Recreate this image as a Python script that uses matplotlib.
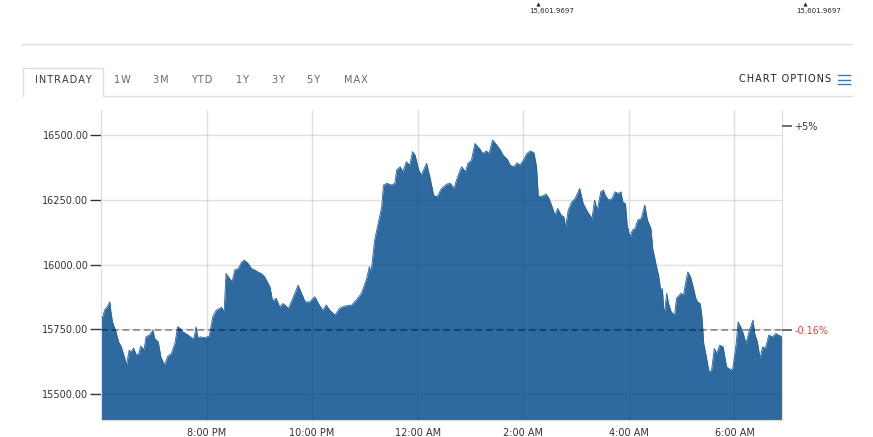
import numpy as np
import pandas as pd
import matplotlib
matplotlib.use("Agg")
import matplotlib.pyplot as plt
import matplotlib.dates as mdates
from matplotlib.ticker import FuncFormatter

# minutes after 6:00 PM and index level
minutes = [0, 2, 4, 7, 10, 11, 13, 17, 20, 23, 27, 29, 32, 34, 37, 40, 43, 45, 49, 51,
           55, 59, 61, 65, 68, 72, 76, 80, 84, 87, 90, 93, 99, 104, 106, 108, 110, 113, 118, 123,
           127, 131, 137, 140, 142, 146, 149, 152, 156, 160, 163, 167, 171, 175, 178, 182, 186, 190, 192, 195,
           199, 203, 207, 213, 218, 224, 228, 232, 237, 243, 247, 252, 256, 260, 266, 271, 277, 285, 290, 296,
           302, 305, 307, 311, 315, 319, 321, 325, 330, 334, 336, 340, 343, 347, 351, 354, 357, 361, 364, 370,
           374, 378, 382, 387, 393, 397, 401, 406, 410, 414, 417, 421, 425, 430, 434, 438, 441, 445, 449, 454,
           457, 462, 465, 469, 473, 476, 480, 484, 488, 492, 495, 497, 501, 506, 509, 512, 516, 519, 523, 526,
           528, 531, 535, 539, 544, 548, 553, 558, 561, 564, 568, 571, 573, 577, 581, 584, 588, 591, 593, 596,
           598, 601, 604, 607, 610, 614, 618, 621, 625, 627, 631, 634, 636, 638, 640, 643, 645, 648, 652, 654,
           659, 662, 665, 667, 670, 673, 676, 678, 681, 683, 685, 688, 691, 694, 697, 700, 703, 707, 711, 716,
           718, 722, 724, 727, 730, 733, 737, 741, 743, 746, 749, 752, 755, 759, 763, 767, 770, 774]
values = [15805, 15798, 15824, 15837, 15856, 15824, 15779, 15741, 15702, 15683, 15639, 15612, 15670, 15663, 15678, 15651, 15657, 15685, 15672, 15721,
          15728, 15747, 15715, 15702, 15644, 15612, 15647, 15657, 15696, 15760, 15754, 15741, 15728, 15715, 15721, 15760, 15718, 15721, 15718, 15724,
          15798, 15824, 15835, 15818, 15966, 15947, 15934, 15979, 15985, 16011, 16017, 16005, 15985, 15979, 15972, 15966, 15953, 15927, 15914, 15860,
          15870, 15837, 15850, 15831, 15870, 15921, 15889, 15856, 15856, 15876, 15850, 15824, 15844, 15824, 15805, 15831, 15840, 15844, 15863, 15889,
          15947, 15992, 15972, 16095, 16159, 16223, 16307, 16314, 16307, 16314, 16365, 16378, 16358, 16397, 16384, 16436, 16423, 16365, 16346, 16391,
          16335, 16268, 16262, 16294, 16311, 16314, 16294, 16346, 16378, 16358, 16391, 16403, 16468, 16449, 16429, 16439, 16429, 16481, 16465, 16442,
          16423, 16406, 16384, 16378, 16393, 16384, 16403, 16429, 16439, 16432, 16378, 16264, 16264, 16272, 16256, 16230, 16191, 16217, 16191, 16185,
          16146, 16210, 16242, 16256, 16294, 16236, 16204, 16178, 16249, 16210, 16281, 16288, 16268, 16249, 16256, 16281, 16275, 16281, 16242, 16236,
          16153, 16107, 16133, 16140, 16172, 16178, 16230, 16172, 16140, 16063, 15998, 15953, 15902, 15908, 15805, 15889, 15850, 15818, 15805, 15870,
          15889, 15882, 15940, 15972, 15953, 15914, 15870, 15856, 15850, 15798, 15696, 15644, 15586, 15593, 15676, 15657, 15689, 15683, 15605, 15593,
          15599, 15696, 15779, 15760, 15734, 15696, 15747, 15786, 15734, 15702, 15638, 15683, 15676, 15728, 15721, 15734, 15728, 15721]

prev_close = 15746
y_ticks = [15500, 15750, 16000, 16250, 16500]
pct_levels = [prev_close * 1.05, prev_close]
pct_labels = ["+5%", "-0.16%"]
tabs = ["1W", "3M", "YTD", "1Y", "3Y", "5Y", "MAX"]
tab_x = [122, 161, 202, 242, 278, 314, 356]
top_quote = "15,601.9697"

start = pd.Timestamp("2021-05-18 18:00")
times = start + pd.to_timedelta(minutes, unit="min")


def spaced(s):
    # fake letter spacing with hair spaces
    return "\u200a".join(s)


W, H = 873, 437
fig = plt.figure(figsize=(W / 100, H / 100), dpi=100)

ax = fig.add_axes([101 / W, 1 - 420 / H, 681 / W, 310 / H])
ylo, yhi = 15400, 16597
fill_col = "#2e69a0"
ax.fill_between(times, values, ylo, color=fill_col, lw=0, zorder=1)
ax.plot(times, values, color="#2a6198", lw=0.6, zorder=1.5)
ax.set_ylim(ylo, yhi)
ax.set_xlim(times[0], times[-1])

ax.axhline(prev_close, color="black", alpha=0.36, lw=1.4, ls=(0, (3.5, 2)), zorder=3)

ax.set_yticks(y_ticks)
ax.yaxis.set_major_formatter(FuncFormatter(lambda v, p: f"{v:.2f}"))
hours = [20, 22, 0, 2, 4, 6]
xt = [start.normalize() + pd.Timedelta(hours=h + (24 if h < 18 else 0)) for h in hours]
ax.set_xticks(xt)


def hfmt(v, p):
    d = mdates.num2date(v)
    h = d.hour
    h12 = 12 if h % 12 == 0 else h % 12
    return f"{h12}:00 {'AM' if h < 12 else 'PM'}"


ax.xaxis.set_major_formatter(FuncFormatter(hfmt))
ax.tick_params(axis="y", length=8, width=1, color="#333333", labelsize=7,
               labelcolor="#333333", pad=1)
ax.tick_params(axis="x", length=0, labelsize=7, labelcolor="#333333", pad=6)
# light grid behind the area, faint copy on top of it
ax.grid(True, color="#ededed", lw=1, zorder=0)
ax.set_axisbelow(True)
for t in xt:
    ax.axvline(t, color="black", alpha=0.06, lw=1, zorder=2)
for v in y_ticks:
    ax.axhline(v, color="black", alpha=0.05, lw=1, zorder=2)
for s in ["left", "right", "bottom"]:
    ax.spines[s].set_color("#dcdcdc")
ax.spines["top"].set_visible(False)

ax2 = ax.twinx()
ax2.set_ylim(ylo, yhi)
ax2.set_yticks(pct_levels)
ax2.set_yticklabels(pct_labels)
ax2.tick_params(axis="y", length=7, width=1.2, color="#555555", labelsize=7, pad=2)
ax2.get_yticklabels()[0].set_color("#333333")
ax2.get_yticklabels()[1].set_color("#e8423f")
for s in ax2.spines.values():
    s.set_visible(False)

# page chrome around the chart
ov = fig.add_axes([0, 0, 1, 1], zorder=-1)
ov.set_xlim(0, W)
ov.set_ylim(H, 0)
ov.axis("off")
ov.plot([22, 852], [44, 44], color="#e0e0e0", lw=1)
ov.plot([23, 23, 103, 103, 852], [96, 68, 68, 96, 96], color="#dddddd", lw=1)
ov.text(63, 80, spaced("INTRADAY"), ha="center", va="center", fontsize=7, color="#2b3a4e")
for lab, x in zip(tabs, tab_x):
    ov.text(x, 80, spaced(lab), ha="center", va="center", fontsize=7, color="#666666")
ov.text(831, 79, spaced("CHART OPTIONS"), ha="right", va="center", fontsize=7, color="#222222")
for yy in [75, 79.5, 84]:
    ov.plot([838, 850], [yy, yy], color="#3c78c0", lw=1)
for x in [538, 805]:
    ov.plot([x], [3.5], marker="^", ms=3, color="#222222", mec="none")
    ov.text(x + 14, 11, top_quote, ha="center", va="center", fontsize=5, color="#222222")

fig.savefig("out.png", dpi=100)
